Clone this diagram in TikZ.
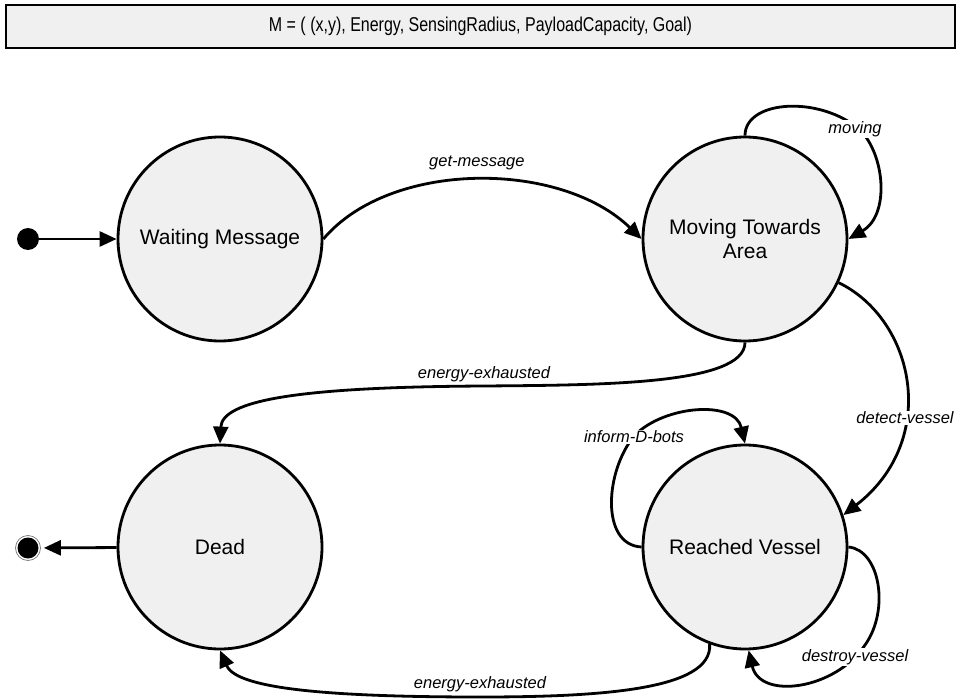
\documentclass[tikz,border=0pt]{standalone}
\usepackage{fontspec}
\setmainfont{Liberation Sans}
\usetikzlibrary{arrows.meta}
\definecolor{statefill}{HTML}{F0F0F0}
\tikzset{
  state/.style={circle, draw, line width=2.8pt, fill=statefill, minimum size=204pt, inner sep=0pt,
    font=\fontsize{21}{24}\selectfont, align=center},
  conn/.style={line width=2.8pt, -{Triangle[length=17pt,width=15pt]}},
  lbl/.style={font=\itshape\fontsize{16.5}{19}\selectfont, inner sep=1pt},
  wlbl/.style={lbl, fill=white},
}
\begin{document}
\begin{tikzpicture}[x=1pt,y=-1pt]
\useasboundingbox (0,0) rectangle (960,700);
\node[draw, line width=2pt, fill=statefill, minimum width=949pt, minimum height=43pt, inner sep=0pt,
  font=\fontsize{20}{22}\selectfont] (title) at (480.5,26.5) {\scalebox{0.8}[1]{M = ( (x,y), Energy, SensingRadius, PayloadCapacity, Goal)}};

\node[state] (wait) at (220,239) {Waiting Message};
\node[state] (move) at (745,239) {Moving Towards\\Area};
\node[state] (dead) at (220,547) {Dead};
\node[state] (reach) at (745,547) {Reached Vessel};

\node[circle, fill=black, minimum size=22pt, inner sep=0pt] (start) at (28,239) {};
\node[circle, draw=gray, line width=0.8pt, minimum size=25pt, inner sep=0pt,
  path picture={\fill[black] (path picture bounding box.center) circle (10.5pt);}] (end) at (28,548) {};

\draw[conn] (start) -- (wait);
\draw[conn, shorten >=3pt] (dead) -- (end);

\draw[conn] (wait.east) .. controls (390,160) and (560,160) .. (move.west)
  node[lbl, midway, above=7pt] {get-message};

\draw[conn] (move.90) .. controls (745,100) and (820,95) .. (860,130)
  .. controls (885,155) and (890,215) .. (move.0);
\node[wlbl] (lmoving) at (855,129) {moving};

\draw[conn] (move.-25) .. controls (915,320) and (940,440) .. (reach.18);
\node[wlbl] (ldetect) at (905,418) {detect-vessel};

\draw[conn] (move.-90) .. controls (745,385) and (600,385) .. (484,386)
  node[lbl, above=2pt] {energy-exhausted}
  .. controls (300,387) and (222,400) .. (dead.90);

\draw[conn] (reach.180) .. controls (600,545) and (605,470) .. (635,435)
  .. controls (665,405) and (735,400) .. (reach.90);
\node[wlbl] (linform) at (634,437) {inform-D-bots};

\draw[conn] (reach.0) .. controls (880,550) and (890,610) .. (865,645)
  .. controls (835,690) and (760,700) .. (reach.-88);
\node[wlbl] (ldestroy) at (855,657) {destroy-vessel};

\draw[conn] (reach.-110) .. controls (713,690) and (600,697) .. (480,697)
  node[lbl, above=3pt] {energy-exhausted}
  .. controls (300,697) and (235,685) .. (dead.-90);
\end{tikzpicture}
\end{document}
